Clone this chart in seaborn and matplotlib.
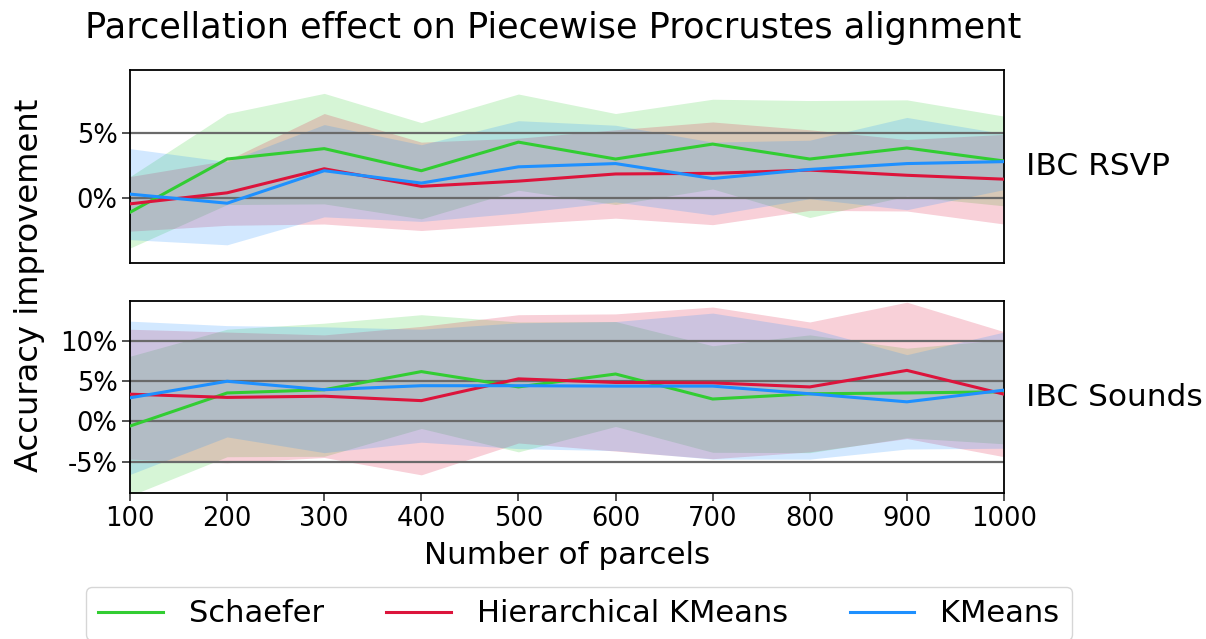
import numpy as np
import pandas as pd
import matplotlib
matplotlib.use("Agg")
import matplotlib.pyplot as plt
import seaborn as sns

# ---- data ----
n_parcels = [100, 200, 300, 400, 500, 600, 700, 800, 900, 1000]
methods = ["Schaefer", "Hierarchical KMeans", "KMeans"]
colors = {"Schaefer": "limegreen", "Hierarchical KMeans": "crimson", "KMeans": "dodgerblue"}
datasets = ["IBC RSVP", "IBC Sounds"]

# IBC RSVP : mean improvement (%) and band half-width (%)
rsvp_schaefer_mean = [-1.1, 3.0, 3.8, 2.1, 4.3, 3.0, 4.15, 3.0, 3.85, 2.85]
rsvp_schaefer_sd = [2.75, 3.5, 4.25, 3.7, 3.7, 3.5, 3.45, 4.5, 3.7, 3.45]
rsvp_hkmeans_mean = [-0.45, 0.4, 2.25, 0.9, 1.3, 1.85, 1.9, 2.15, 1.75, 1.45]
rsvp_hkmeans_sd = [2.1, 2.5, 4.25, 3.4, 3.3, 3.4, 3.95, 3.1, 2.75, 3.45]
rsvp_kmeans_mean = [0.3, -0.4, 2.1, 1.15, 2.4, 2.65, 1.5, 2.2, 2.65, 2.8]
rsvp_kmeans_sd = [3.5, 3.2, 3.55, 2.95, 3.55, 2.95, 2.8, 2.25, 3.55, 2.15]

# IBC Sounds
sounds_schaefer_mean = [-0.6, 3.5, 3.9, 6.15, 4.25, 5.85, 2.75, 3.4, 3.5, 3.65]
sounds_schaefer_sd = [8.65, 7.9, 8.25, 7.05, 8.05, 6.5, 6.6, 7.3, 5.55, 6.45]
sounds_hkmeans_mean = [3.35, 2.95, 3.1, 2.55, 5.25, 4.8, 4.75, 4.25, 6.3, 3.35]
sounds_hkmeans_sd = [8.05, 8.1, 7.6, 9.2, 7.95, 8.5, 9.4, 8.05, 8.45, 7.75]
sounds_kmeans_mean = [2.9, 4.95, 3.9, 4.4, 4.4, 4.35, 4.35, 3.4, 2.4, 3.85]
sounds_kmeans_sd = [9.5, 6.9, 7.8, 7.0, 7.8, 8.0, 9.05, 8.1, 5.85, 7.2]

panel_data = {
    "IBC RSVP": {
        "Schaefer": (rsvp_schaefer_mean, rsvp_schaefer_sd),
        "Hierarchical KMeans": (rsvp_hkmeans_mean, rsvp_hkmeans_sd),
        "KMeans": (rsvp_kmeans_mean, rsvp_kmeans_sd),
    },
    "IBC Sounds": {
        "Schaefer": (sounds_schaefer_mean, sounds_schaefer_sd),
        "Hierarchical KMeans": (sounds_hkmeans_mean, sounds_hkmeans_sd),
        "KMeans": (sounds_kmeans_mean, sounds_kmeans_sd),
    },
}
yticks = {"IBC RSVP": [0, 5], "IBC Sounds": [-5, 0, 5, 10]}
ylims = {"IBC RSVP": (-5.0, 9.85), "IBC Sounds": (-8.9, 14.9)}

# ---- figure ----
plt.rcParams["font.family"] = ["DejaVu Sans"]
for k in ["text.color", "axes.labelcolor", "xtick.color", "ytick.color"]:
    plt.rcParams[k] = "black"
W, H = 1206, 639
fig = plt.figure(figsize=(W / 100, H / 100), dpi=100)

def ax_rect(x0, y0, x1, y1):
    return [x0 / W, 1 - y1 / H, (x1 - x0) / W, (y1 - y0) / H]

axes = [fig.add_axes(ax_rect(130, 70, 1004, 263)),
        fig.add_axes(ax_rect(130, 301, 1004, 493))]

for ax, ds in zip(axes, datasets):
    rows = []
    for m in methods:
        mean, sd = panel_data[ds][m]
        for x, v in zip(n_parcels, mean):
            rows.append({"n": x, "acc": v, "method": m})
    df = pd.DataFrame(rows)
    for m in methods:
        mean, sd = panel_data[ds][m]
        mean = np.asarray(mean); sd = np.asarray(sd)
        ax.fill_between(n_parcels, mean - sd, mean + sd, color=colors[m],
                        alpha=0.2, linewidth=0, zorder=1)
    for t in yticks[ds]:
        ax.axhline(t, color="#6a6a6a", lw=1.6, zorder=1.5)
    sns.lineplot(data=df, x="n", y="acc", hue="method", hue_order=methods,
                 palette=colors, lw=2.2, ax=ax, zorder=3, legend=True)
    ax.set_xlim(100, 1000)
    ax.set_ylim(*ylims[ds])
    ax.set_yticks(yticks[ds])
    ax.set_yticklabels([f"{t}%" for t in yticks[ds]])
    ax.set_xlabel("")
    ax.set_ylabel("")
    for s in ax.spines.values():
        s.set_color("black")
        s.set_linewidth(1.3)
    ax.tick_params(axis="both", labelsize=18.5, length=5.5, width=1.2,
                   color="#333333", left=True, bottom=True, direction="out")
    ax.text(1.025, 0.5, ds, transform=ax.transAxes, fontsize=22.5,
            ha="left", va="center")

handles, labels = axes[0].get_legend_handles_labels()
for ax in axes:
    ax.get_legend().remove()

axes[0].set_xticks(n_parcels)
axes[0].tick_params(axis="x", bottom=False, labelbottom=False)
axes[1].set_xticks(n_parcels)
axes[1].set_xticklabels([str(v) for v in n_parcels])

fig.text(553 / W, 1 - 28 / H, "Parcellation effect on Piecewise Procrustes alignment",
         ha="center", va="center", fontsize=25.3)
fig.text(30 / W, 1 - 285 / H, "Accuracy improvement", rotation=90,
         ha="center", va="center", fontsize=23.2)
fig.text(567 / W, 1 - 555 / H, "Number of parcels", ha="center", va="center",
         fontsize=22.3)

leg = fig.legend(handles, labels, ncol=3, loc="upper center",
                 bbox_to_anchor=(579 / W, 1 - 587 / H), fontsize=22,
                 frameon=True, handlelength=2.1, columnspacing=2.05,
                 handletextpad=0.85, borderpad=0.4, borderaxespad=0.0)
leg.get_frame().set_edgecolor("#cccccc")
for lh in leg.get_lines():
    lh.set_linewidth(2.2)

fig.savefig("out.png", dpi=100)
